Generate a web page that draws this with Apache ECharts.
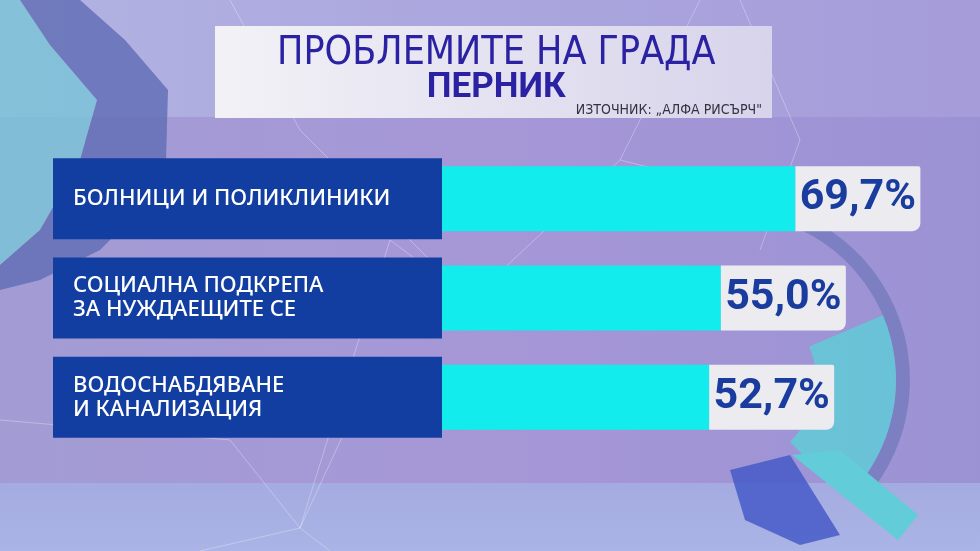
<!DOCTYPE html>
<html>
<head>
<meta charset="utf-8">
<script src="https://cdn.jsdelivr.net/npm/echarts@6/dist/echarts.min.js"></script>
<style>
  html, body { margin: 0; padding: 0; background: #aaa5de; }
  #chart { width: 980px; height: 551px; }
</style>
</head>
<body>
<div id="chart"></div>
<script>
// ---- data ----
const categories = [
  'БОЛНИЦИ И ПОЛИКЛИНИКИ',
  'СОЦИАЛНА ПОДКРЕПА\nЗА НУЖДАЕЩИТЕ СЕ',
  'ВОДОСНАБДЯВАНЕ\nИ КАНАЛИЗАЦИЯ'
];
const values = [69.7, 55.0, 52.7];
const titleLine1 = 'ПРОБЛЕМИТЕ НА ГРАДА';
const titleLine2 = 'ПЕРНИК';
const sourceText = 'ИЗТОЧНИК: „АЛФА РИСЪРЧ"';

const chart = echarts.init(document.getElementById('chart'), null, { renderer: 'canvas' });

const netLine = (x1, y1, x2, y2, o) => ({
  type: 'line', silent: true, z: -8,
  shape: { x1, y1, x2, y2 },
  style: { stroke: 'rgba(255,255,255,' + (o || 0.3) + ')', lineWidth: 1 }
});

const option = {
  animation: false,
  backgroundColor: {
    type: 'linear', x: 0, y: 0, x2: 1, y2: 0,
    colorStops: [{ offset: 0, color: '#b2b3e2' }, { offset: 0.5, color: '#aba6de' }, { offset: 1, color: '#a59cd9' }]
  },
  graphic: [
    // middle band
    { type: 'rect', silent: true, z: -10, shape: { x: 0, y: 117, width: 980, height: 366 },
      style: { fill: { type: 'linear', x: 0, y: 0, x2: 1, y2: 0,
        colorStops: [{ offset: 0, color: '#a39cd4' }, { offset: 0.5, color: '#a697d7' }, { offset: 1, color: '#9b92d4' }] } } },
    // bottom band
    { type: 'rect', silent: true, z: -10, shape: { x: 0, y: 483, width: 980, height: 68 },
      style: { fill: { type: 'linear', x: 0, y: 0, x2: 0, y2: 1,
        colorStops: [{ offset: 0, color: '#a4abe0' }, { offset: 1, color: '#aab4e6' }] } } },
    // left decoration: teal + blue band
    { type: 'polygon', silent: true, z: -9,
      shape: { points: [[0,0],[20,0],[50,45],[97,100],[80,160],[40,230],[0,265]] },
      style: { fill: 'rgba(125,195,215,0.85)' } },
    { type: 'polygon', silent: true, z: -9,
      shape: { points: [[20,0],[80,0],[125,40],[168,90],[166,160],[150,200],[100,250],[40,280],[0,290],[0,265],[40,230],[80,160],[97,100],[50,45]] },
      style: { fill: 'rgba(95,108,180,0.8)' } },
    // right decoration
    { type: 'sector', silent: true, z: -9,
      shape: { cx: 730, cy: 380, r0: 166, r: 180, startAngle: -1.15, endAngle: 0.75 },
      style: { fill: 'rgba(110,120,185,0.7)' } },
    { type: 'sector', silent: true, z: -9,
      shape: { cx: 730, cy: 380, r0: 86, r: 166, startAngle: -0.4, endAngle: 0.8 },
      style: { fill: 'rgba(100,200,215,0.9)' } },
    { type: 'polygon', silent: true, z: -9,
      shape: { points: [[792,455],[840,450],[918,515],[898,540]] },
      style: { fill: '#62cdd8' } },
    { type: 'polygon', silent: true, z: -9,
      shape: { points: [[730,470],[790,455],[840,535],[800,545],[745,520]] },
      style: { fill: 'rgba(70,90,200,0.85)' } },
    // network lines
    netLine(230, 0, 300, 130), netLine(300, 130, 470, 300), netLine(470, 300, 390, 240),
    netLine(390, 240, 300, 528), netLine(300, 528, 230, 440), netLine(300, 528, 350, 420),
    netLine(470, 300, 620, 160), netLine(620, 160, 700, 0), netLine(620, 160, 780, 200),
    netLine(300, 528, 200, 551), netLine(300, 528, 330, 551), netLine(0, 420, 230, 440),
    netLine(740, 0, 800, 140), netLine(800, 140, 760, 250),
    // title box
    { type: 'rect', silent: true, z: -5, shape: { x: 215, y: 26, width: 557, height: 92 },
      style: { fill: { type: 'linear', x: 0, y: 0, x2: 1, y2: 0,
        colorStops: [{ offset: 0, color: 'rgba(244,244,247,0.97)' }, { offset: 1, color: 'rgba(218,214,236,0.95)' }] } } }
  ],
  title: [
    {
      left: 277, top: 33, padding: 0,
      text: '{a|' + titleLine1 + '}\n{b|' + titleLine2 + '}',
      textStyle: {
        rich: {
          a: { fontFamily: 'DejaVu Sans Condensed, sans-serif', fontWeight: 'normal', fontSize: 39, lineHeight: 41, color: '#2a21a3', align: 'center' },
          b: { fontFamily: 'Roboto, sans-serif', fontWeight: 'bold', fontSize: 35, lineHeight: 28, color: '#2a21a3', align: 'center' }
        }
      }
    },
    {
      right: 218, top: 103, padding: 0,
      text: sourceText,
      textStyle: { fontFamily: 'DejaVu Sans Condensed, sans-serif', fontSize: 14, fontWeight: 'normal', color: '#333340' }
    }
  ],
  grid: { left: 442, right: 31, top: 149, height: 298, outerBoundsMode: 'none' },
  xAxis: { type: 'value', min: 0, max: 100, show: false },
  yAxis: {
    type: 'category', data: categories, inverse: true,
    axisLine: { show: false }, axisTick: { show: false }, splitLine: { show: false },
    axisLabel: {
      inside: true, margin: -389, align: 'left', verticalAlign: 'middle',
      width: 369, height: 81, padding: [0, 0, 0, 20], overflow: 'none',
      backgroundColor: '#133ea1', color: '#ffffff',
      fontFamily: 'Noto Sans, sans-serif', fontWeight: 500, fontSize: 22, lineHeight: 24
    }
  },
  series: [{
    type: 'bar', data: values, barWidth: 65,
    itemStyle: { color: '#12ecec' },
    label: {
      show: true, position: 'right', distance: 0,
      formatter: p => '{v|' + p.value.toFixed(1).replace('.', ',') + '%}',
      backgroundColor: '#ececf0', borderRadius: [0, 2, 8, 0],
      width: 125, height: 65, padding: 0, align: 'left', verticalAlign: 'middle',
      rich: {
        v: { align: 'center', lineHeight: 65, color: '#1a3c9e', fontFamily: 'Roboto, sans-serif', fontWeight: 'bold', fontSize: 43 }
      }
    }
  }]
};
chart.setOption(option);
</script>
</body>
</html>
